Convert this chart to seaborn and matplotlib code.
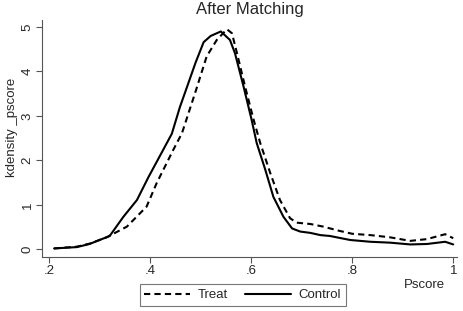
import numpy as np
import pandas as pd
import seaborn as sns
import matplotlib
matplotlib.use("Agg")
import matplotlib.pyplot as plt
from matplotlib.lines import Line2D

treat_x = [0.21, 0.255, 0.281, 0.314, 0.354, 0.38, 0.393, 0.413, 0.446, 0.463,
           0.49, 0.512, 0.532, 0.552, 0.562, 0.572, 0.588, 0.605, 0.618, 0.638,
           0.657, 0.677, 0.69, 0.717, 0.743, 0.773, 0.80, 0.836, 0.875, 0.915,
           0.948, 0.984, 1.0]
treat_y = [0.02, 0.06, 0.13, 0.27, 0.51, 0.81, 0.96, 1.49, 2.24, 2.61,
           3.55, 4.34, 4.71, 4.95, 4.86, 4.41, 3.66, 2.91, 2.39, 1.71,
           1.11, 0.70, 0.60, 0.57, 0.51, 0.42, 0.35, 0.32, 0.27, 0.19,
           0.23, 0.34, 0.25]

control_x = [0.21, 0.255, 0.28, 0.32, 0.347, 0.374, 0.397, 0.426, 0.443, 0.459,
             0.473, 0.49, 0.506, 0.52, 0.54, 0.558, 0.568, 0.585, 0.601, 0.611,
             0.628, 0.644, 0.664, 0.681, 0.697, 0.717, 0.737, 0.756, 0.796, 0.836,
             0.875, 0.915, 0.948, 0.984, 1.0]
control_y = [0.02, 0.05, 0.12, 0.30, 0.73, 1.11, 1.63, 2.24, 2.60, 3.20,
             3.65, 4.20, 4.66, 4.80, 4.90, 4.71, 4.41, 3.66, 2.91, 2.39,
             1.79, 1.18, 0.73, 0.47, 0.40, 0.37, 0.32, 0.30, 0.21, 0.17,
             0.15, 0.11, 0.12, 0.17, 0.11]

xticks = [0.2, 0.4, 0.6, 0.8, 1.0]
xtick_labels = [".2", ".4", ".6", ".8", "1"]
yticks = [0, 1, 2, 3, 4, 5]

df = pd.concat([
    pd.DataFrame({"Pscore": treat_x, "density": treat_y, "group": "Treat"}),
    pd.DataFrame({"Pscore": control_x, "density": control_y, "group": "Control"}),
])

sns.set_style("white")
plt.rcParams["font.family"] = ["Liberation Sans", "DejaVu Sans"]

fig = plt.figure(figsize=(4.64, 3.11), dpi=100)
ax = fig.add_axes([0.0905, 0.174, 0.895, 0.762])

sns.lineplot(data=df, x="Pscore", y="density", hue="group", style="group",
             palette={"Treat": "black", "Control": "black"},
             dashes={"Treat": (3, 2), "Control": ""},
             sort=False, estimator=None, linewidth=1.5, ax=ax, legend=False)

ax.set_xlim(0.186, 1.008)
ax.set_ylim(-0.17, 5.16)
ax.set_xticks(xticks)
ax.set_xticklabels(xtick_labels, fontsize=9.5)
ax.set_yticks(yticks)
ax.set_yticklabels([str(v) for v in yticks], fontsize=9.5, rotation=90, va="center")
ax.tick_params(axis="both", direction="out", length=4, width=0.8, color="#555555",
               bottom=True, left=True, pad=2)
for s in ["top", "right"]:
    ax.spines[s].set_visible(False)
for s in ["left", "bottom"]:
    ax.spines[s].set_color("#555555")
    ax.spines[s].set_linewidth(0.8)

ax.set_ylabel("kdensity _pscore", fontsize=9.5)
ax.yaxis.set_label_coords(-0.058, 0.545)
ax.set_xlabel("")
fig.text(0.915, 0.085, "Pscore", fontsize=9.5, ha="center", va="center")
ax.set_title("After Matching", fontsize=12, pad=4)

handles = [Line2D([0], [0], color="black", lw=1.5, dashes=(3, 2)),
           Line2D([0], [0], color="black", lw=1.5)]
leg = fig.legend(handles, ["Treat", "Control"], loc="center", ncol=2,
                 bbox_to_anchor=(0.523, 0.051), fontsize=9.5, frameon=True,
                 fancybox=False, edgecolor="#555555", handlelength=3.5,
                 columnspacing=1.3, borderpad=0.35, handletextpad=0.55,
                 borderaxespad=0)
leg.get_frame().set_linewidth(0.8)

fig.savefig("out.png", dpi=100)
